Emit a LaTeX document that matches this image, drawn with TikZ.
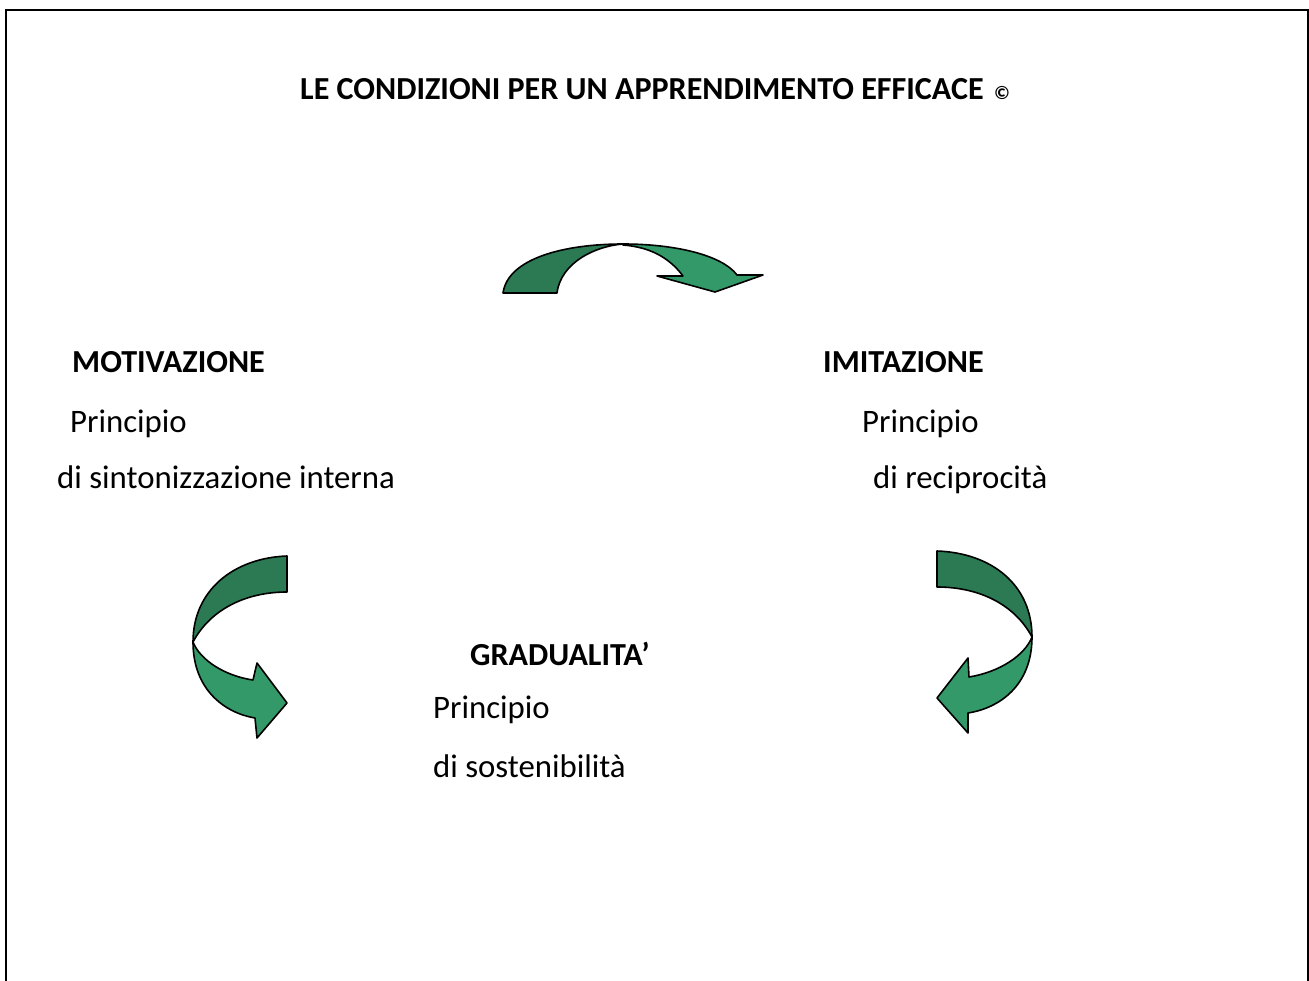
\documentclass[tikz,border=0pt]{standalone}
\usepackage{fontspec}
\setmainfont{Carlito}
\definecolor{darkgr}{RGB}{44,122,84}
\definecolor{lightgr}{RGB}{52,153,104}
\begin{document}
\begin{tikzpicture}[x=1pt,y=-1pt,
  txt/.style={anchor=base west,inner sep=0pt,font=\fontsize{32.8}{38}\selectfont},
  head/.style={txt,font=\fontsize{32.1}{38}\selectfont\bfseries},
  back/.style={fill=darkgr,draw=black,line width=1.6pt,line join=round},
  front/.style={fill=lightgr,draw=black,line width=1.6pt,line join=round}]
\useasboundingbox (0,0) rectangle (1309,981);
\draw[line width=2pt] (6,981) -- (6,10) -- (1308,10) -- (1308,981);

% title
\node[head] (title) at (300,100) {LE CONDIZIONI PER UN APPRENDIMENTO EFFICACE};
\node[anchor=base west,inner sep=0pt,font=\fontsize{19}{22}\selectfont\bfseries] (copy) at (994,100) {\char"00A9};

% motivazione
\node[head] (mot) at (72,373) {MOTIVAZIONE};
\node[txt] (mot1) at (70,432) {Principio};
\node[txt] (mot2) at (57,488) {di sintonizzazione interna};

% imitazione
\node[head] (imi) at (823,373) {IMITAZIONE};
\node[txt] (imi1) at (862,432) {Principio};
\node[txt] (imi2) at (873,488) {di reciprocità};

% gradualita
\node[head] (gra) at (470,665) {GRADUALITA’};
\node[txt] (gra1) at (433,718) {Principio};
\node[txt] (gra2) at (433,777) {di sostenibilità};

% top arrow
\draw[back] (503,293) .. controls (508,258) and (565,244) .. (623,244)
  .. controls (596,246) and (561,262) .. (557,293) -- cycle;
\draw[front] (623,244) .. controls (675,244) and (722,255) .. (737,275)
  -- (763,275) -- (715,292) -- (657,276) -- (683,276)
  .. controls (668,256) and (648,247) .. (623,245) -- cycle;

% left arrow
\draw[back] (287,556) .. controls (234,558) and (193,590) .. (193,642)
  .. controls (210,610) and (245,592) .. (287,592) -- cycle;
\draw[front] (193,642) .. controls (193,690) and (225,713) .. (255,718)
  -- (257,738) -- (287,703) -- (257,663) -- (253,680)
  .. controls (225,676) and (200,660) .. (193,642) -- cycle;

% right arrow
\draw[back] (937,551) .. controls (992,553) and (1032,585) .. (1032,637)
  .. controls (1015,605) and (980,587) .. (937,587) -- cycle;
\draw[front] (1032,637) .. controls (1032,685) and (1000,708) .. (968,713)
  -- (968,733) -- (937,698) -- (968,658) -- (969,677)
  .. controls (1000,672) and (1025,655) .. (1032,637) -- cycle;
\end{tikzpicture}
\end{document}
